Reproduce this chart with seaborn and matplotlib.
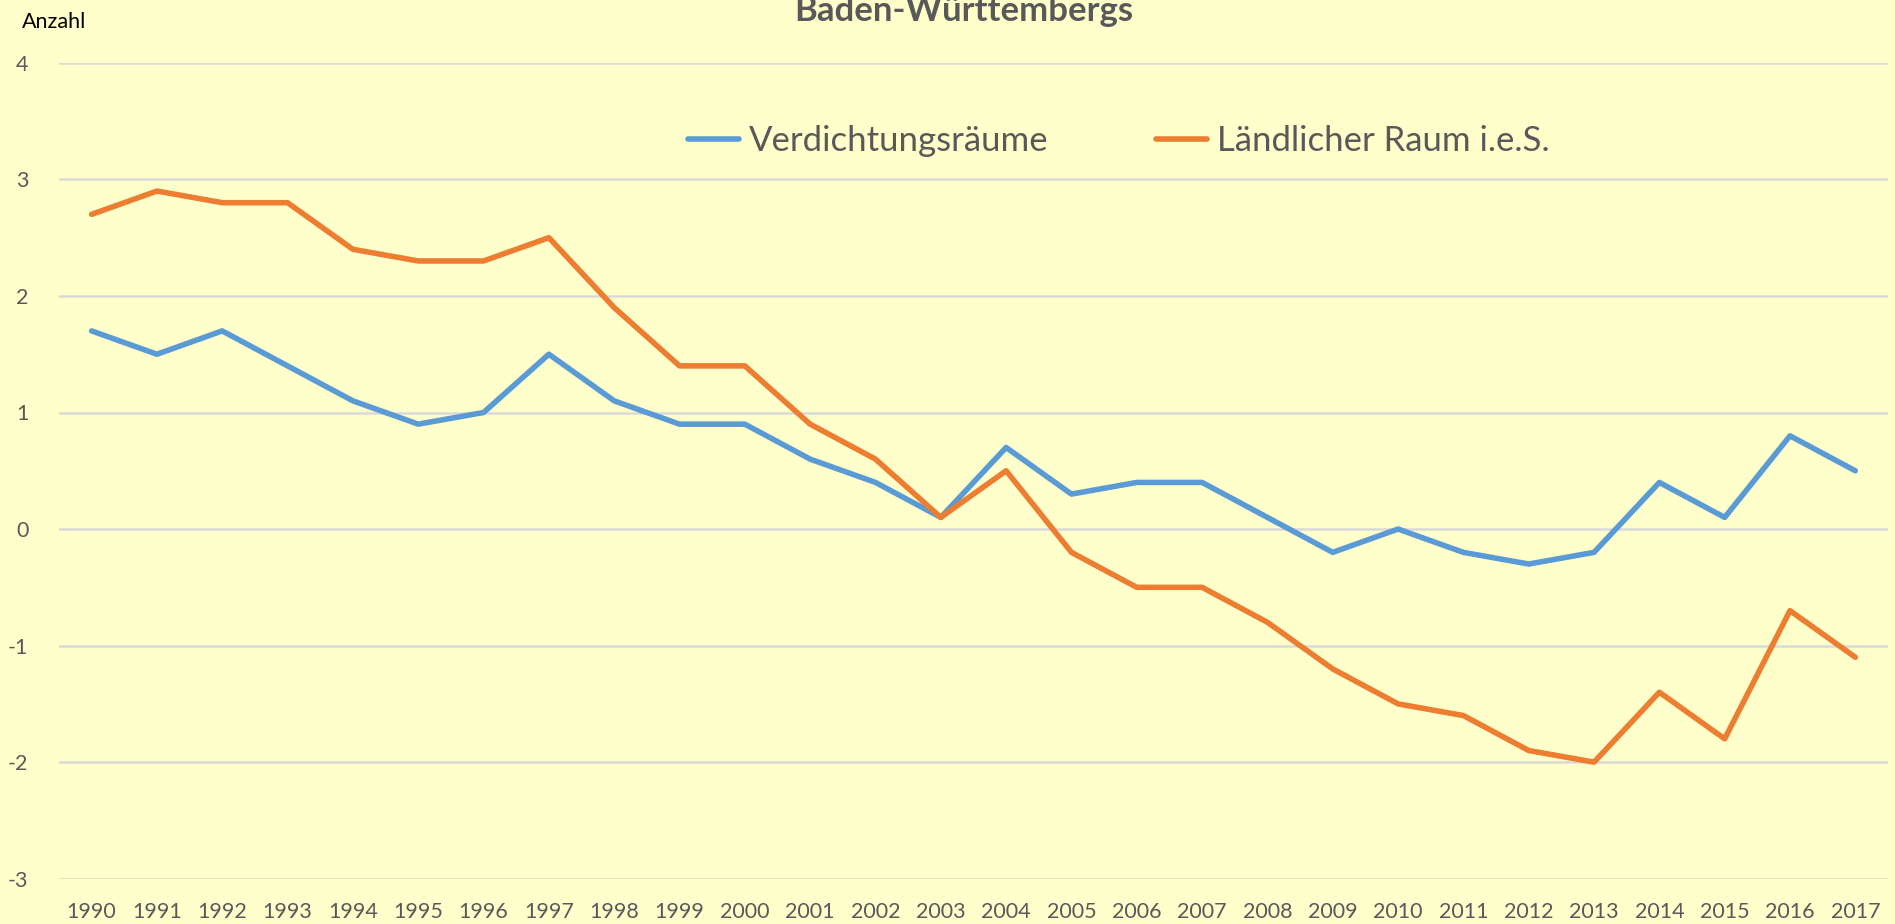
import pandas as pd
import matplotlib.pyplot as plt
import seaborn as sns
from matplotlib.lines import Line2D

# --- DATEN ---
jahre = list(range(1990, 2018))
verdichtung = [1.7, 1.5, 1.7, 1.4, 1.1, 0.9, 1.0, 1.5, 1.1, 0.9,
               0.9, 0.6, 0.4, 0.1, 0.7, 0.3, 0.4, 0.4, 0.1, -0.2,
               0.0, -0.2, -0.3, -0.2, 0.4, 0.1, 0.8, 0.5]
laendlich = [2.7, 2.9, 2.8, 2.8, 2.4, 2.3, 2.3, 2.5, 1.9, 1.4,
             1.4, 0.9, 0.6, 0.1, 0.5, -0.2, -0.5, -0.5, -0.8, -1.2,
             -1.5, -1.6, -1.9, -2.0, -1.4, -1.8, -0.7, -1.1]
serien = ['Verdichtungsräume', 'Ländlicher Raum i.e.S.']
farben = ['#5B9BD5', '#ED7D31']
y_ticks = [-3, -2, -1, 0, 1, 2, 3, 4]

df = pd.DataFrame({
    'Jahr': jahre * 2,
    'Wert': verdichtung + laendlich,
    'Raum': [serien[0]] * len(jahre) + [serien[1]] * len(jahre),
})

sns.set_style("white")
plt.rcParams['font.family'] = ['Lato', 'DejaVu Sans']

bg = '#FFFFCC'
grau = '#595959'

fig = plt.figure(figsize=(18.95, 9.24), dpi=100, facecolor=bg)
ax = fig.add_axes([0.0311, 0.0490, 0.9652, 0.8830], facecolor=bg)

sns.lineplot(data=df, x='Jahr', y='Wert', hue='Raum', hue_order=serien,
             palette=farben, linewidth=4.0, ax=ax, legend=False,
             solid_capstyle='round', solid_joinstyle='round')

ax.set_xlim(1989.5, 2017.5)
ax.set_ylim(-3, 4)
ax.set_yticks(y_ticks)
ax.set_yticklabels([str(v) for v in y_ticks])
ax.set_xticks(jahre)
ax.set_xticklabels([str(j) for j in jahre])
ax.grid(axis='y', color='#D9D9D9', linewidth=1.8)
ax.set_axisbelow(True)
for s in ax.spines.values():
    s.set_visible(False)
ax.tick_params(axis='both', length=0, colors=grau, labelsize=15.5)
ax.tick_params(axis='y', pad=22)
ax.tick_params(axis='x', pad=17)
ax.set_xlabel('')
ax.set_ylabel('')

# Legende
handles = [Line2D([0], [0], color=c, linewidth=4.0, solid_capstyle='round') for c in farben]
leg = fig.legend(handles, serien, loc='center', bbox_to_anchor=(1119 / 1895, 1 - 141 / 924),
                 ncol=2, frameon=False, fontsize=25, handlelength=1.45, handletextpad=0.3,
                 columnspacing=3.1)
for t in leg.get_texts():
    t.set_color(grau)

# Titel (oben abgeschnitten) und Achsenbeschriftung
fig.text(964 / 1895, 1 - 21 / 924, 'Baden-Württembergs', ha='center', va='baseline',
         fontsize=25, fontweight='bold', color=grau)
fig.text(22 / 1895, 1 - 28 / 924, 'Anzahl', ha='left', va='baseline',
         fontsize=15.5, color='black')

plt.savefig('out.png', dpi=100, facecolor=bg)
